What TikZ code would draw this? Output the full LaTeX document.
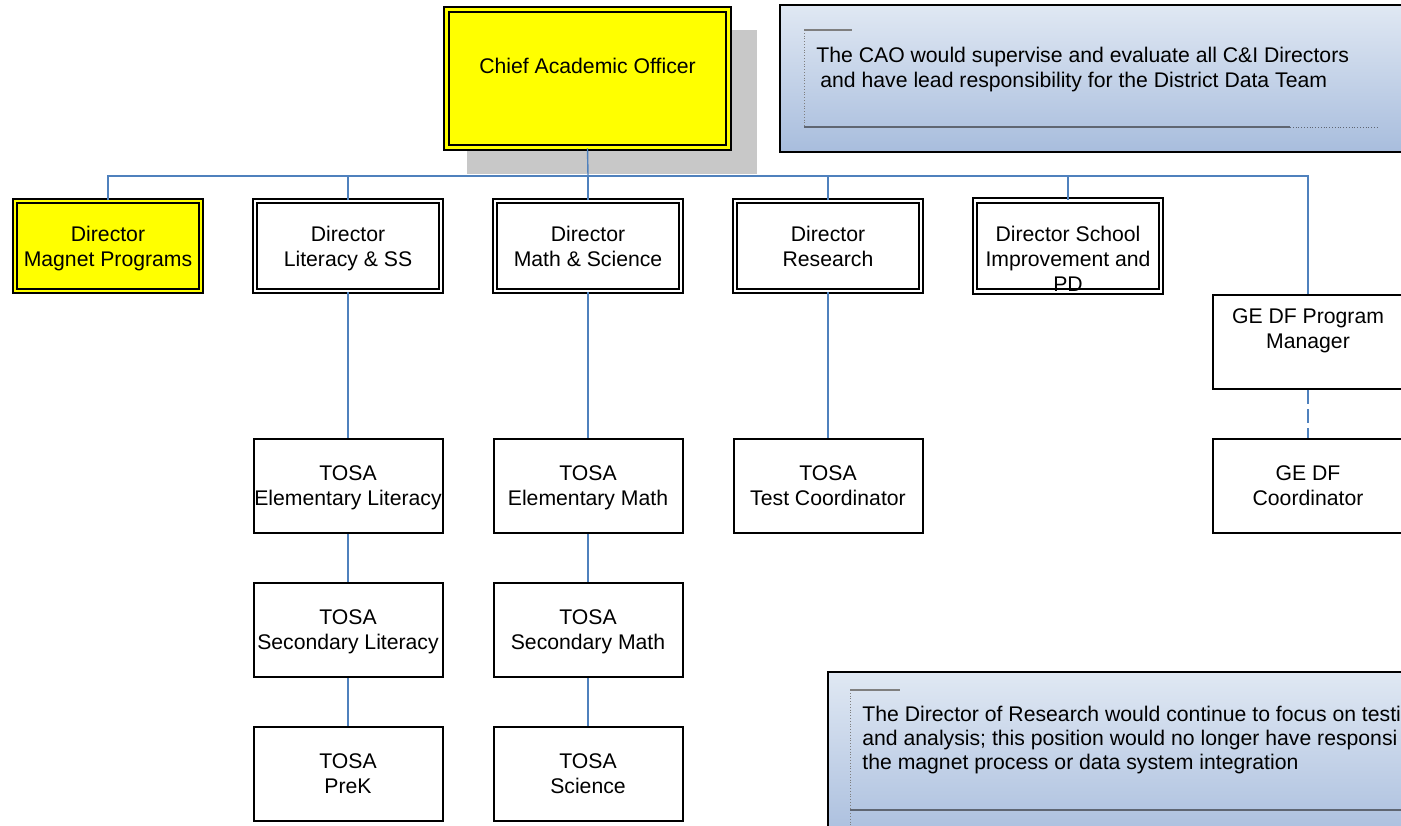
\documentclass[tikz,border=0pt]{standalone}
\usepackage{fontspec}
\setmainfont{Liberation Sans}

\newcommand{\chartfont}{\fontsize{10.6}{12.5}\selectfont}

\definecolor{linkblue}{HTML}{4F81BD}
\definecolor{boxyellow}{HTML}{FFFF00}
\definecolor{notetop}{HTML}{E0E8F3}
\definecolor{notebot}{HTML}{A8BDDD}
\definecolor{shadowgray}{HTML}{C8C8C8}
\definecolor{tickgray}{HTML}{7F7F7F}
\definecolor{rulegray}{HTML}{5F6672}

\begin{document}
\begin{tikzpicture}[x=0.5pt, y=-0.5pt, font=\chartfont,
    director/.style={draw, line width=0.95pt, double=white, double distance=1.4pt,
    fill=white, minimum width=93pt, minimum height=45pt, inner sep=0pt, align=center,
    text depth=0pt},
    magnet/.style={director, fill=boxyellow, double=boxyellow},
    tosa/.style={draw, line width=1pt, fill=white, minimum width=94.5pt,
    minimum height=47pt, inner sep=0pt, align=center, text depth=0pt},
    note/.style={draw, line width=1pt, top color=notetop, bottom color=notebot},
    link/.style={draw=linkblue, line width=0.7pt},
    dashlink/.style={link, dash pattern=on 7pt off 2.5pt}]

    \useasboundingbox (0,0) rectangle (1401,825);
    \clip (0,0) rectangle (1401,825);

    % CAO
    \fill[shadowgray] (467,30) rectangle (757,174);
    \node[magnet, minimum width=141pt, minimum height=69pt, text depth=13pt]
    (cao) at (587.5,78.5) {Chief Academic Officer};
    \coordinate (bus) at (588,176);

    % Directors
    \node[magnet] (dmag) at (108,246) {Director\\Magnet Programs};
    \node[director] (dlit) at (348,246) {Director\\Literacy \& SS};
    \node[director] (dmath) at (588,246) {Director\\Math \& Science};
    \node[director] (dres) at (828,246) {Director\\Research};
    \node[director, text height=45.5pt, text depth=0pt]
    (dsip) at (1068,246) {Director School\\Improvement and\\PD};
    \node[tosa, minimum width=95pt, text depth=13pt]
    (gepm) at (1308,342) {GE DF Program\\Manager};

    % TOSAs
    \node[tosa] (tel) at (348,486) {TOSA\\Elementary Literacy};
    \node[tosa] (tsl) at (348,630) {TOSA\\Secondary Literacy};
    \node[tosa] (tpk) at (348,774) {TOSA\\PreK};
    \node[tosa] (tem) at (588,486) {TOSA\\Elementary Math};
    \node[tosa] (tsm) at (588,630) {TOSA\\Secondary Math};
    \node[tosa] (tsc) at (588,774) {TOSA\\Science};
    \node[tosa] (ttc) at (828,486) {TOSA\\Test Coordinator};
    \node[tosa, minimum width=95pt] (gedf) at (1308,486) {GE DF\\Coordinator};

    % Lines
    \draw[link] (cao.south) -- (bus);
    \draw[link] (dmag.north) -- (dmag.north |- bus) -| (gepm.north);
    \foreach \d in {dlit, dmath, dres, dsip}
        \draw[link] (\d.north) -- (\d.north |- bus);
    \foreach \a/\b in {dlit/tel, tel/tsl, tsl/tpk, dmath/tem, tem/tsm, tsm/tsc, dres/ttc}
        \draw[link] (\a) -- (\b);
    \draw[dashlink] (gepm) -- (gedf);

    % Notes
    \draw[note] (780,5) rectangle (1425,152);
    \draw[tickgray, densely dotted] (804,30) -- (804,127);
    \draw[tickgray, line width=0.6pt] (804,30) -- (852,30);
    \draw[rulegray, line width=0.8pt] (804,127) -- (1290,127);
    \draw[rulegray, densely dotted] (1290,127) -- (1378,127);
    \node[anchor=west, align=left, inner sep=0pt] (caonote) at (816,70)
    {The CAO would supervise and evaluate all C\&I Directors\\\hspace{2pt}and have lead responsibility for the District Data Team};

    \draw[note] (828,672) rectangle (1425,845);
    \draw[tickgray, densely dotted] (850,690) -- (850,835);
    \draw[tickgray, line width=0.6pt] (850,690) -- (900,690);
    \draw[rulegray, line width=0.8pt] (850,810) -- (1425,810);
    \node[anchor=west, align=left, inner sep=0pt, font=\fontsize{10.6}{12}\selectfont]
    (resnote) at (862,740)
    {The Director of Research would continue to focus on testi\\and analysis; this position would no longer have responsi\\the magnet process or data system integration};

\end{tikzpicture}
\end{document}
